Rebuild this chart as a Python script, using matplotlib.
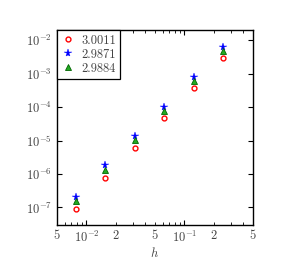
import numpy as np
import matplotlib
matplotlib.use("Agg")
import matplotlib.pyplot as plt
from matplotlib.ticker import LogLocator, FuncFormatter, NullLocator

plt.rcParams['font.family'] = 'cmr10'
plt.rcParams['mathtext.fontset'] = 'cm'
plt.rcParams['axes.formatter.use_mathtext'] = True
plt.rcParams['axes.unicode_minus'] = False

# data
h = np.array([1/128, 1/64, 1/32, 1/16, 1/8, 1/4])
err_red = np.array([8.7e-8, 7.6e-7, 5.8e-6, 4.7e-5, 3.6e-4, 2.9e-3])
err_blue = np.array([2.1e-7, 1.85e-6, 1.4e-5, 1.0e-4, 8.1e-4, 6.3e-3])
err_green = np.array([1.6e-7, 1.3e-6, 1.07e-5, 7.6e-5, 6.2e-4, 4.7e-3])
labels = ['3.0011', '2.9871', '2.9884']

fig = plt.figure(figsize=(2.89, 2.73), dpi=100)
ax = fig.add_axes([0.197, 0.176, 0.678, 0.714])

ax.plot(h, err_red, 'o', ls='none', mfc='white', mec='red', mew=1.0, ms=3.5, label=labels[0])
ax.plot(h, err_blue, '*', ls='none', color='blue', mew=0.3, ms=5.8, label=labels[1])
ax.plot(h, err_green, '^', ls='none', mfc='#22aa22', mec='darkgreen', mew=0.6, ms=3.8, label=labels[2])

ax.set_xscale('log')
ax.set_yscale('log')
ax.set_xlim(0.005, 0.5)
ax.set_ylim(3e-8, 2e-2)

ax.xaxis.set_minor_locator(LogLocator(base=10, subs=np.arange(2, 10)))
def minor_fmt(x, pos):
    m = round(x / 10 ** np.floor(np.log10(x) + 1e-9))
    return str(m) if m in (2, 5) else ''
ax.xaxis.set_minor_formatter(FuncFormatter(minor_fmt))
ax.yaxis.set_minor_locator(NullLocator())
ax.set_yticks([1e-7, 1e-6, 1e-5, 1e-4, 1e-3, 1e-2])

ax.tick_params(which='both', direction='in', top=True, right=True, labelsize=9, colors='black',
               labelcolor='#444444')
ax.tick_params(which='major', length=3.5, width=0.8)
ax.tick_params(which='minor', length=2, width=0.6)
for s in ax.spines.values():
    s.set_linewidth(1.0)

ax.set_xlabel('$h$', fontsize=9, color='#444444', labelpad=1)

leg = ax.legend(loc='upper left', fontsize=9, fancybox=False, edgecolor='black', framealpha=1,
                borderaxespad=0, handlelength=1, handletextpad=0.6, borderpad=0.35, labelspacing=0.15)
leg.get_frame().set_linewidth(0.9)
for t in leg.get_texts():
    t.set_color('#444444')

fig.savefig('out.png', dpi=100)
